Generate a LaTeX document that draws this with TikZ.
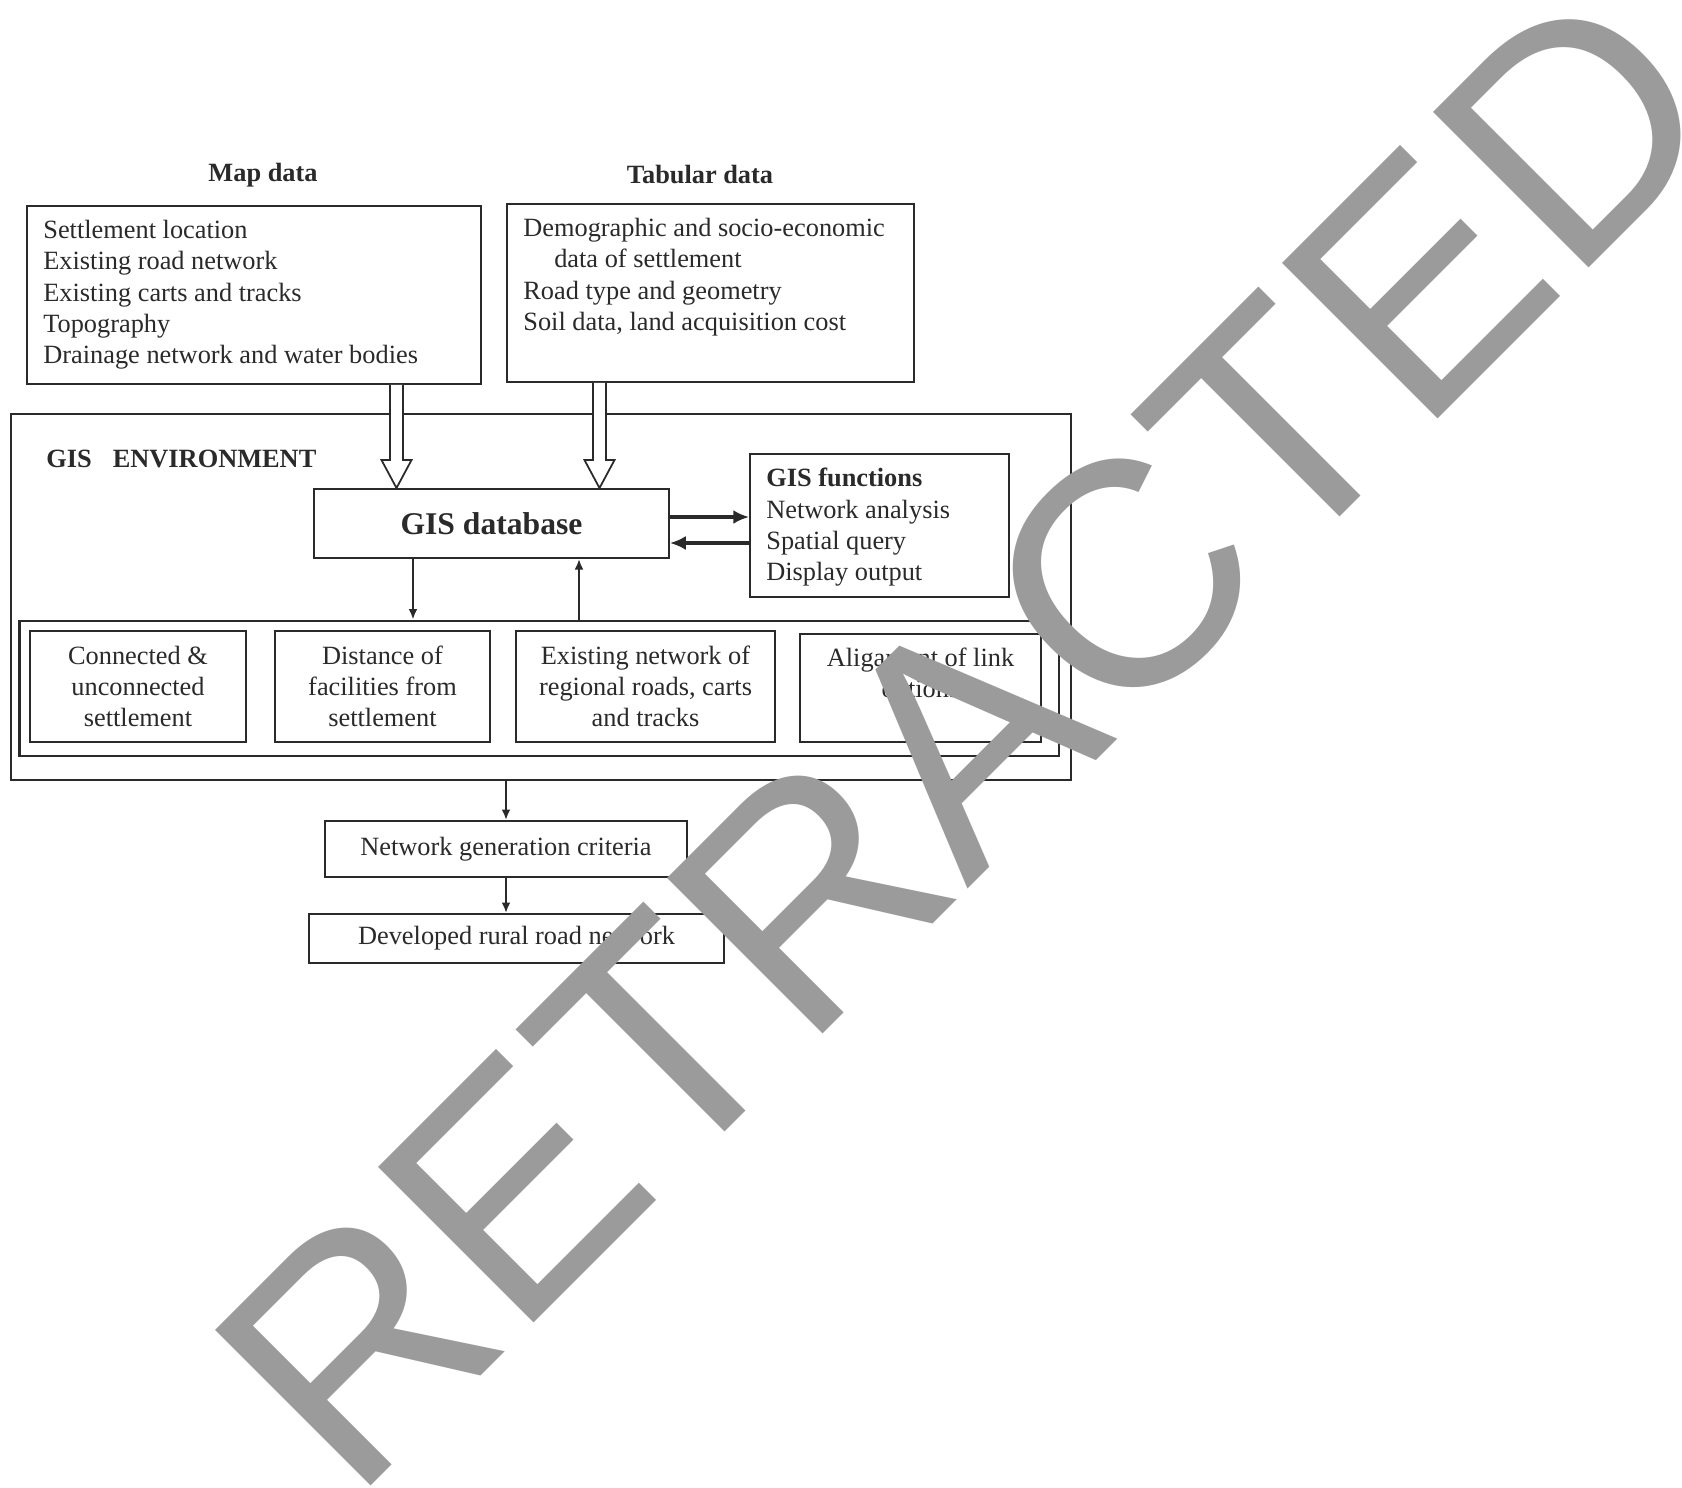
\documentclass[tikz,border=0pt]{standalone}
\usepackage{fontspec}
\setmainfont{Liberation Serif}
\newfontfamily\wmfont{Liberation Sans}
\usetikzlibrary{arrows.meta,calc}
\definecolor{ink}{HTML}{2A2A2A}
\definecolor{wm}{HTML}{9B9B9B}
\begin{document}
\begin{tikzpicture}[x=0.02cm,y=-0.02cm,
  box/.style={draw=ink, line width=1.1pt, inner sep=0pt},
  body/.style={font=\fontsize{15}{17.8}\selectfont, text=ink},
  txt/.style={body, align=left, anchor=north west, inner sep=0pt},
  title/.style={font=\bfseries\fontsize{15}{18}\selectfont, text=ink, anchor=base, inner sep=0pt},
  hollow/.style={draw=ink, line width=1pt, fill=white, line join=miter},
  bigarr/.style={draw=ink, line width=2pt, -{Latex[length=9pt,width=8pt]}},
  smallarr/.style={draw=ink, line width=1.2pt, -{Latex[length=6pt,width=5pt]}}]

\fill[white] (0,0) rectangle (1682,1487);
\useasboundingbox (0,0) rectangle (1682,1487);

% GIS environment frame and inner panel
\node[box, minimum width=21.2cm, minimum height=7.32cm] (env) at (541,597) {};
\node[box, line width=1.6pt, minimum width=20.8cm, minimum height=2.7cm] (panel) at (539,688.5) {};
\node[font=\bfseries\fontsize{15}{17}\selectfont, text=ink, anchor=base west, inner sep=0pt] (envlbl) at (46,467) {GIS\hspace{0.8em}ENVIRONMENT};

% titles
\node[title] (maptitle) at (263,181) {Map data};
\node[title] (tabtitle) at (700,183) {Tabular data};

% input boxes
\node[box, minimum width=9.08cm, minimum height=3.56cm] (map) at (254,295) {};
\node[txt] (maptxt) at (43,220) {Settlement location\\Existing road network\\Existing carts and tracks\\Topography\\Drainage network and water bodies};
\node[box, minimum width=8.14cm, minimum height=3.56cm] (tab) at (710.5,293) {};
\node[txt] (tabtxt) at (523,218) {Demographic and socio-economic\\\hspace*{17.6pt}data of settlement\\Road type and geometry\\Soil data, land acquisition cost};

% database and functions
\node[box, minimum width=7.1cm, minimum height=1.38cm, font=\bfseries\fontsize{18}{20}\selectfont, text=ink] (db) at (491.5,523.5) {GIS database};
\node[box, minimum width=5.18cm, minimum height=2.86cm] (fun) at (879.5,525.5) {};
\node[txt] (funtxt) at (766,468) {{\bfseries GIS functions}\\Network analysis\\Spatial query\\Display output};

% sub boxes
\node[box, body, align=center, minimum width=4.32cm, minimum height=2.22cm] (s1) at (138,686.5) {Connected \&\\unconnected\\settlement};
\node[box, body, align=center, minimum width=4.30cm, minimum height=2.22cm] (s2) at (382.5,686.5) {Distance of\\facilities from\\settlement};
\node[box, body, align=center, minimum width=5.18cm, minimum height=2.22cm] (s3) at (645.5,686.5) {Existing network of\\regional roads, carts\\and tracks};
\node[box, body, align=center, minimum width=4.82cm, minimum height=2.16cm] (s4) at (920.5,688) {Aligament of link\\options\\\mbox{}};

% output boxes
\node[box, body, minimum width=7.24cm, minimum height=1.12cm] (net) at (506,849) {Network generation criteria};
\node[box, body, minimum width=8.30cm, minimum height=0.98cm] (dev) at (516.5,938.5) {Developed rural road network};

% hollow block arrows
\foreach \cx/\src in {396.5/map, 599.5/tab} {
  \filldraw[hollow] (\cx-6.5,0 |- \src.south)
    -- ($(\cx-6.5,0 |- db.north)+(0,-28)$)
    -- ($(\cx-15,0 |- db.north)+(0,-28)$)
    -- (\cx,0 |- db.north)
    -- ($(\cx+15,0 |- db.north)+(0,-28)$)
    -- ($(\cx+6.5,0 |- db.north)+(0,-28)$)
    -- (\cx+6.5,0 |- \src.south);
}

% database <-> functions
\draw[bigarr] ($(db.east)+(0,-6.5)$) -- ($(fun.west |- db.east)+(0,-6.5)$);
\draw[bigarr] ($(fun.west |- db.east)+(0,19.5)$) -- ($(db.east)+(0,19.5)$);

% database <-> panel
\draw[smallarr] (413,0 |- db.south) -- (413,0 |- panel.north);
\draw[smallarr] (579,0 |- panel.north) -- (579,0 |- db.south);

% outputs
\draw[smallarr] (net.north |- env.south) -- (net.north);
\draw[smallarr] (net.south) -- (net.south |- dev.north);

% watermark
\node[rotate=45, anchor=base west, inner sep=0pt, text=wm, font=\wmfont\fontsize{182}{182}\selectfont] (wmk) at (352,1505) {RETRACTED};
\end{tikzpicture}
\end{document}
